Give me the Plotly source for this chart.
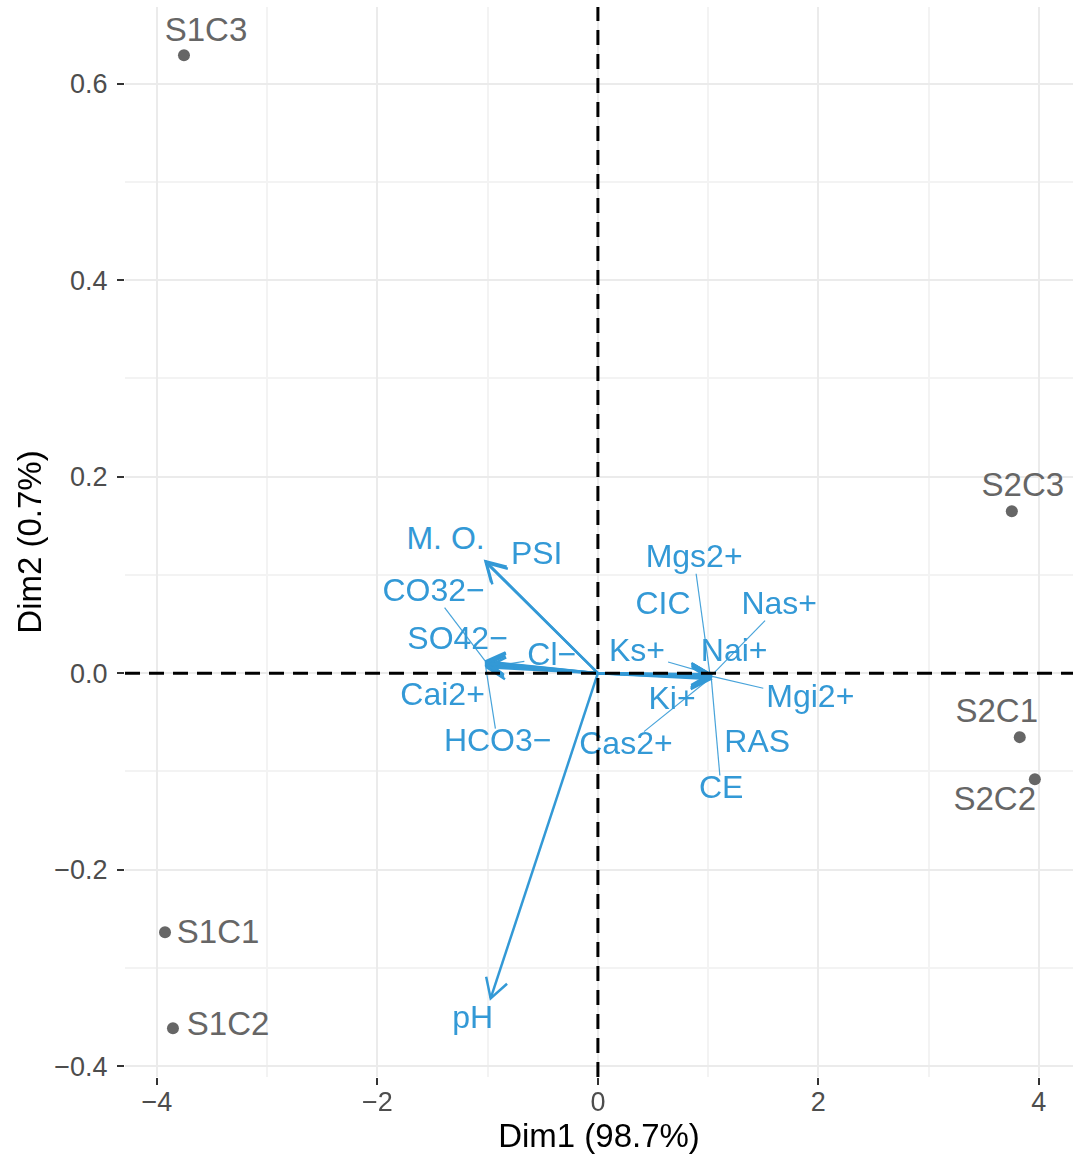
import math
import plotly.graph_objects as go

# ---------------- data ----------------
ind_names = ["S1C1", "S1C2", "S1C3", "S2C1", "S2C2", "S2C3"]
ind_dim1 = [-3.927, -3.855, -3.755, 3.827, 3.964, 3.755]
ind_dim2 = [-0.2636, -0.3613, 0.629, -0.0651, -0.1079, 0.1649]

var_names = ["pH", "CE", "M. O.", "CIC", "PSI", "RAS", "Cai2+", "Mgi2+", "Nai+",
             "Ki+", "HCO3−", "CO32−", "Cl−", "SO42−", "Cas2+", "Mgs2+", "Nas+", "Ks+"]
var_dim1 = [-0.973, 1.027, -1.020, 1.024, -1.010, 1.027, -1.015, 1.027, 1.025,
            1.020, -1.020, -1.020, -1.010, -1.020, 1.022, 1.020, 1.025, 1.020]
var_dim2 = [-0.331, -0.003, 0.114, -0.002, 0.112, -0.002, 0.011, -0.003, -0.002,
            -0.006, 0.008, 0.012, 0.006, 0.010, -0.005, -0.004, -0.003, -0.001]

x_tick_vals = [-4, -2, 0, 2, 4]
x_tick_text = ["−4", "−2", "0", "2", "4"]
y_tick_vals = [-0.4, -0.2, 0.0, 0.2, 0.4, 0.6]
y_tick_text = ["−0.4", "−0.2", "0.0", "0.2", "0.4", "0.6"]
x_minor = [-3, -1, 1, 3]
y_minor = [-0.3, -0.1, 0.1, 0.3, 0.5]

x_title = "Dim1 (98.7%)"
y_title = "Dim2 (0.7%)"

# ---------------- layout / placement ----------------
W, H = 1073, 1160
ML, MR, MT, MB = 125, 0, 7, 83
XR = [-4.29, 4.31]
YR = [-0.411, 0.678]
PW, PH = W - ML - MR, H - MT - MB
SX = PW / (XR[1] - XR[0])
SY = PH / (YR[1] - YR[0])

BLUE = "#3399D6"
GREY = "#666666"
FONT = "Liberation Sans, Arial, Helvetica, sans-serif"
LAB_SIZE = 32

# repelled label positions (data coordinates)
ind_label_pos = {
    "S1C3": (-3.555, 0.6514), "S2C3": (3.855, 0.189), "S2C1": (3.618, -0.0417),
    "S2C2": (3.60, -0.131), "S1C1": (-3.445, -0.2667), "S1C2": (-3.355, -0.360),
}
var_label_pos = {
    "M. O.": (-1.382, 0.1343), "PSI": (-0.555, 0.1191), "CO32−": (-1.491, 0.0814),
    "SO42−": (-1.273, 0.0326), "Cl−": (-0.418, 0.0163), "Cai2+": (-1.409, -0.0244),
    "HCO3−": (-0.909, -0.0712), "pH": (-1.136, -0.353), "Mgs2+": (0.873, 0.116),
    "CIC": (0.591, 0.0682), "Nas+": (1.645, 0.0682), "Ks+": (0.355, 0.0204),
    "Nai+": (1.236, 0.0204), "Mgi2+": (1.927, -0.0265), "Ki+": (0.673, -0.0285),
    "Cas2+": (0.2545, -0.0743), "RAS": (1.445, -0.0723), "CE": (1.118, -0.119),
}
with_segment = ["CO32−", "HCO3−", "Cl−", "Mgs2+", "Nas+", "Ks+", "Mgi2+", "Cas2+", "CE"]

CW = {'M': .833, '.': .278, ' ': .278, 'O': .778, 'P': .667, 'S': .667, 'I': .278,
      'C': .722, '3': .556, '2': .556, '4': .556, '−': .584, 'l': .222, 'a': .556,
      'i': .222, '+': .584, 'H': .722, 'p': .556, 'g': .556, 's': .5, 'N': .722,
      'K': .667, 'R': .722, 'A': .667, 'E': .667, '1': .556}


def text_w(s, size):
    return sum(CW.get(c, 0.6) for c in s) * size


fig = go.Figure()

# arrows (shaft + open V head)
ax_x, ax_y = [], []
HL = 22.0
for vx, vy in zip(var_dim1, var_dim2):
    ax_x += [0, vx, None]
    ax_y += [0, vy, None]
    px, py = vx * SX, vy * SY
    th = math.atan2(py, px)
    arms = []
    for s in (+1, -1):
        a = th + math.pi + s * math.pi / 6
        arms.append((vx + HL * math.cos(a) / SX, vy + HL * math.sin(a) / SY))
    ax_x += [arms[0][0], vx, arms[1][0], None]
    ax_y += [arms[0][1], vy, arms[1][1], None]

# repel segments
seg_x, seg_y = [], []
for name, vx, vy in zip(var_names, var_dim1, var_dim2):
    if name not in with_segment:
        continue
    lx, ly = var_label_pos[name]
    hw = text_w(name, LAB_SIZE) / 2 + 3
    hh = LAB_SIZE * 0.36 + 3
    dxp = (vx - lx) * SX
    dyp = (vy - ly) * SY
    t = min(hw / abs(dxp) if dxp else 1e9, hh / abs(dyp) if dyp else 1e9)
    sx0 = lx + t * (vx - lx)
    sy0 = ly + t * (vy - ly)
    seg_x += [sx0, vx, None]
    seg_y += [sy0, vy, None]

fig.add_trace(go.Scatter(x=seg_x, y=seg_y, mode="lines",
                         line=dict(color=BLUE, width=1.2), hoverinfo="skip",
                         showlegend=False, opacity=0.9))
fig.add_trace(go.Scatter(x=ax_x, y=ax_y, mode="lines",
                         line=dict(color=BLUE, width=2.5), hoverinfo="skip",
                         showlegend=False))

# individuals
fig.add_trace(go.Scatter(x=ind_dim1, y=ind_dim2, mode="markers",
                         marker=dict(color=GREY, size=12), showlegend=False,
                         text=ind_names, hoverinfo="text"))
fig.add_trace(go.Scatter(x=[ind_label_pos[n][0] for n in ind_names],
                         y=[ind_label_pos[n][1] for n in ind_names],
                         mode="text", text=ind_names, textposition="middle center",
                         textfont=dict(family=FONT, size=33, color=GREY),
                         showlegend=False, hoverinfo="skip", cliponaxis=False))
# variable labels
fig.add_trace(go.Scatter(x=[var_label_pos[n][0] for n in var_names],
                         y=[var_label_pos[n][1] for n in var_names],
                         mode="text", text=var_names, textposition="middle center",
                         textfont=dict(family=FONT, size=LAB_SIZE, color=BLUE),
                         showlegend=False, hoverinfo="skip", cliponaxis=False))

# reference dashed lines
fig.add_shape(type="line", xref="x", yref="paper", x0=0, x1=0, y0=0, y1=1,
              line=dict(color="black", width=3, dash="15px,9px"), layer="above")
fig.add_shape(type="line", xref="paper", yref="y", x0=0, x1=1, y0=0, y1=0,
              line=dict(color="black", width=3, dash="15px,9px"), layer="above")

axis_common = dict(
    showline=False, zeroline=False, ticks="outside", ticklen=7, tickwidth=2,
    tickcolor="#333333", showgrid=True, gridcolor="#EBEBEB", gridwidth=2,
    tickfont=dict(family=FONT, size=27, color="#4D4D4D"),
)
fig.update_layout(
    width=W, height=H,
    margin=dict(l=ML, r=MR, t=MT, b=MB, autoexpand=False),
    plot_bgcolor="white", paper_bgcolor="white",
    font=dict(family=FONT),
    xaxis=dict(range=XR, tickmode="array", tickvals=x_tick_vals, ticktext=x_tick_text,
               minor=dict(tickvals=x_minor, showgrid=True, gridcolor="#F3F3F3",
                          gridwidth=1.5, ticks=""),
               title=dict(text=x_title, font=dict(family=FONT, size=33, color="black"),
                          standoff=4),
               ticklabelstandoff=-6, automargin=False, **axis_common),
    yaxis=dict(range=YR, tickmode="array", tickvals=y_tick_vals, ticktext=y_tick_text,
               minor=dict(tickvals=y_minor, showgrid=True, gridcolor="#F3F3F3",
                          gridwidth=1.5, ticks=""),
               title=dict(text=y_title, font=dict(family=FONT, size=33, color="black"),
                          standoff=2),
               ticklabelstandoff=4, automargin=False, **axis_common),
)

fig.write_html("out.html", config={"displayModeBar": False},
               post_script="document.body.style.margin='0';document.body.style.padding='0';")
